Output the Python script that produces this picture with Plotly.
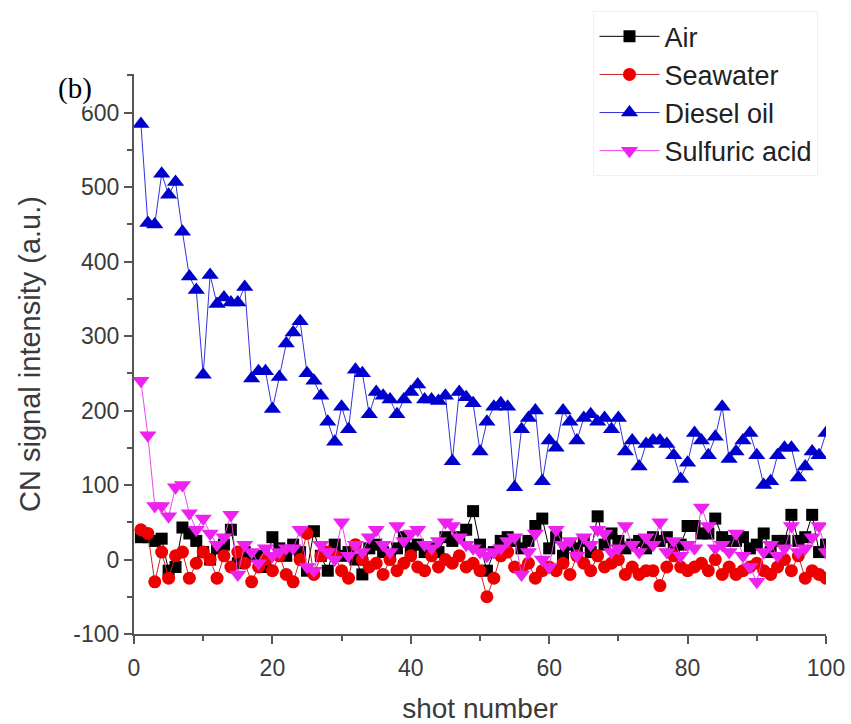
import plotly.graph_objects as go

shots = list(range(1, 101))

air = [30, 30, 25, 28, -15, -10, 43, 35, 25, 10, 0, 15, 20, 40, -5, 10, 5, 5, -10, 30,
       15, 5, 20, 10, -15, 38, 5, -15, 20, 5, 10, 0, -20, 15, 20, 10, 5, 15, 30, 15,
       20, 10, 15, 10, 30, 25, 30, 40, 65, 20, -15, 10, 25, 30, 25, 15, 25, 45, 55, 15,
       30, 5, 20, 15, 25, 10, 58, 20, 35, 25, 15, 20, 25, 15, 30, 25, 30, 15, 20, 45,
       45, 35, 35, 55, 30, 25, 25, 30, 15, 20, 35, 10, 25, 25, 60, 25, 30, 60, 10, 20]

seawater = [40, 35, -30, 10, -25, 5, 10, -25, -5, 10, 0, -25, 5, -10, 10, -5, -30, -10, 0, -15,
            5, -20, -30, 0, 35, -20, 5, 10, 5, -15, -25, 20, 0, -10, -5, -20, 0, -15, -5, 5,
            -10, -15, 5, -10, 0, -5, 5, -10, -5, -15, -50, -25, 5, 10, -10, -15, -5, -25, -15, -10,
            -15, -5, -20, 5, -5, -15, 5, -10, -5, 0, -20, -10, -20, -15, -15, -35, -10, 5, -10, -15,
            -10, -5, -15, 0, -20, -10, -20, -15, -10, -5, -15, -20, -10, 0, -15, 5, -25, -15, -20, -25]

diesel = [585, 452, 450, 518, 490, 507, 440, 380, 362, 248, 382, 343, 352, 345, 345, 366, 243, 253, 253, 202,
          245, 290, 305, 320, 250, 240, 220, 185, 158, 205, 175, 255, 250, 195, 225, 220, 215, 195, 215, 225,
          235, 215, 215, 213, 220, 132, 225, 218, 210, 145, 185, 205, 210, 205, 97, 175, 190, 200, 105, 160,
          150, 200, 185, 160, 190, 195, 185, 190, 175, 190, 145, 160, 125, 155, 160, 160, 155, 140, 108, 130,
          170, 160, 140, 165, 205, 135, 145, 160, 170, 140, 100, 105, 140, 150, 150, 110, 125, 145, 140, 170]

sulfuric = [240, 167, 72, 72, 58, 97, 100, 62, 40, 55, 35, 20, 30, 60, -20, 20, 10, -5, 15, 5,
            10, 15, 15, 40, -10, -15, 20, 10, 0, 50, 5, 20, 10, 30, 40, 20, 10, 45, 25, 35,
            40, 20, 15, 25, 50, 45, 30, 20, 15, 10, 5, 10, 15, 25, 30, -20, 10, 35, 0, -10,
            40, 20, 25, 5, 30, 20, 40, 35, 10, 15, 45, 20, 10, 30, 20, 50, 10, 25, 5, 20,
            15, 70, 45, 15, 20, 10, 35, 5, -10, -30, 10, 20, 5, 15, 45, 10, 15, 30, 45, 10]

x_ticks = [0, 20, 40, 60, 80, 100]
y_ticks = [-100, 0, 100, 200, 300, 400, 500, 600]

series = [
    ("Air", air, "#000000", "square", "#000000", 12),
    ("Seawater", seawater, "#EE0000", "circle", "#CC2222", 13),
    ("Diesel oil", diesel, "#0000CC", "triangle-up", "#3333DD", 15),
    ("Sulfuric acid", sulfuric, "#EE22EE", "triangle-down", "#EE44EE", 15),
]

fig = go.Figure()
for name, vals, mcol, sym, lcol, msize in series:
    fig.add_trace(go.Scatter(
        x=shots, y=vals, name=name, mode="lines+markers",
        line=dict(color=lcol, width=1),
        marker=dict(symbol=sym, color=mcol, size=msize, line=dict(width=0)),
    ))

FONT = "Liberation Sans, Arial"
axis_common = dict(
    showgrid=False, zeroline=False, showline=True, linecolor="#555555", linewidth=2,
    ticks="outside", ticklen=8, tickwidth=1.5, tickcolor="#555555",
    tickfont=dict(family=FONT, size=23, color="#3a3a3a"),
    mirror=False, automargin=False,
)

fig.update_layout(
    width=851, height=724,
    margin=dict(l=134, r=25, t=73, b=90),
    paper_bgcolor="white", plot_bgcolor="white",
    xaxis=dict(range=[0, 100], tickvals=x_ticks, ticktext=[str(v) for v in x_ticks],
               minor=dict(dtick=10, ticks="outside", ticklen=5, tickcolor="#555555"),
               ticklabelstandoff=4,
               title=dict(text="shot number", font=dict(family=FONT, size=28, color="#3a3a3a"), standoff=20),
               **axis_common),
    yaxis=dict(range=[-100, 652], tickvals=y_ticks, ticktext=[str(v) for v in y_ticks],
               minor=dict(dtick=50, ticks="outside", ticklen=5, tickcolor="#555555"),
               title=dict(text="CN signal intensity (a.u.)", font=dict(family=FONT, size=29, color="#3a3a3a"), standoff=24),
               **axis_common),
    legend=dict(x=0.664, y=1.11, xanchor="left", yanchor="top",
                font=dict(family=FONT, size=27, color="#222222"),
                bgcolor="rgba(255,255,255,1)", bordercolor="#F0F0F0", borderwidth=1,
                tracegroupgap=0, itemwidth=60),
    annotations=[dict(text="(b)", xref="paper", yref="paper", x=-0.112, y=0.975,
                      xanchor="left", yanchor="middle", showarrow=False,
                      bgcolor="white",
                      font=dict(family="Liberation Serif, Times New Roman", size=29, color="#000000"))],
    showlegend=True,
)

fig.write_html("out.html")
